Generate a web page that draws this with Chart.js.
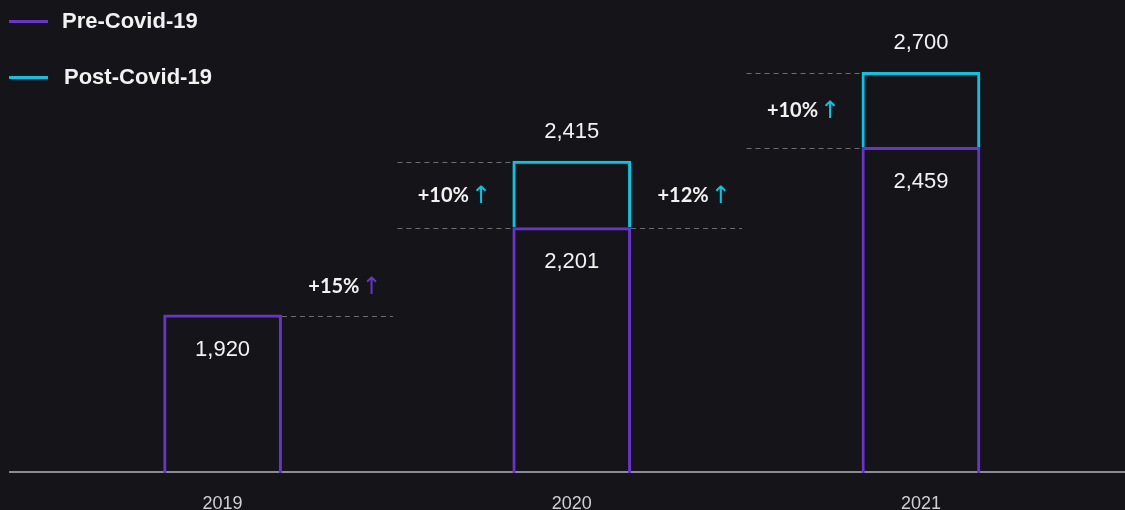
<!DOCTYPE html>
<html>
<head>
<meta charset="utf-8">
<script src="https://cdn.jsdelivr.net/npm/chart.js@4.4.1/dist/chart.umd.min.js"></script>
<style>
  html, body { margin: 0; padding: 0; background: #141419; overflow: hidden; }
  #wrap { width: 1125px; height: 510px; overflow: hidden; }
  canvas { display: block; }
</style>
</head>
<body>
<div id="wrap"><canvas id="covidChart" width="1125" height="552"></canvas></div>
<script>
const years = ["2019", "2020", "2021"];
const preCovid = [1920, 2201, 2459];
const postCovid = [null, 2415, 2700];
const growthLabels = ["+15%", "+10%", "+12%", "+10%"];

const PURPLE = "#6834cc";
const CYAN = "#00c8e6";
const TEXT = "#f2f2f4";
const SANS = "'Liberation Sans', Arial, sans-serif";

// grey axis line running across the whole width, under the bars
const baseline = {
  id: "baseline",
  beforeDatasetsDraw(chart) {
    const { ctx, chartArea } = chart;
    ctx.save();
    ctx.fillStyle = "#8c8c90";
    ctx.fillRect(9, chartArea.bottom - 2, chart.width - 9, 2);
    ctx.restore();
  },
};

// value labels, dashed guides and growth percentages
const annotations = {
  id: "annotations",
  afterDatasetsDraw(chart) {
    const { ctx } = chart;
    const y = chart.scales.y;
    const bars = chart.getDatasetMeta(0).data;
    const left = (i) => bars[i].x - bars[i].width / 2;
    const right = (i) => bars[i].x + bars[i].width / 2;
    const top = (v) => y.getPixelForValue(v);
    const level = (v) => Math.round(top(v)) + 1.5;

    ctx.save();
    ctx.font = "22px " + SANS;
    ctx.fillStyle = TEXT;
    ctx.textAlign = "center";
    ctx.textBaseline = "middle";
    preCovid.forEach((v, i) => {
      ctx.fillText(v.toLocaleString("en-US"), bars[i].x, top(v) + 35);
    });
    postCovid.forEach((v, i) => {
      if (v != null) ctx.fillText(v.toLocaleString("en-US"), bars[i].x, top(v) - 29);
    });

    ctx.strokeStyle = "#6c6c72";
    ctx.lineWidth = 1;
    ctx.setLineDash([5, 4]);
    const dash = (x0, x1, v) => {
      ctx.beginPath();
      ctx.moveTo(x0, level(v));
      ctx.lineTo(x1, level(v));
      ctx.stroke();
    };
    dash(right(0), right(0) + 111, preCovid[0]);
    dash(left(1) - 115, left(1), postCovid[1]);
    dash(left(1) - 115, left(1), preCovid[1]);
    dash(right(1), right(1) + 111, preCovid[1]);
    dash(left(2) - 115, left(2), postCovid[2]);
    dash(left(2) - 115, left(2), preCovid[2]);
    ctx.setLineDash([]);

    const growth = (text, arrowColor, cx, cy) => {
      ctx.font = "bold 20px Lato, sans-serif";
      const tw = ctx.measureText(text).width;
      ctx.font = "24px 'DejaVu Sans', sans-serif";
      const aw = ctx.measureText("\u2191").width;
      const x0 = cx - (tw + 2 + aw) / 2;
      ctx.textAlign = "left";
      ctx.textBaseline = "middle";
      ctx.font = "bold 20px Lato, sans-serif";
      ctx.fillStyle = TEXT;
      ctx.fillText(text, x0, cy);
      ctx.font = "24px 'DejaVu Sans', sans-serif";
      ctx.fillStyle = arrowColor;
      ctx.fillText("\u2191", x0 + tw + 2, cy + 1);
    };
    const row2020 = (level(preCovid[1]) + level(postCovid[1])) / 2;
    growth(growthLabels[0], PURPLE, right(0) + 63, level(preCovid[0]) - 30);
    growth(growthLabels[1], CYAN, left(1) - 58, row2020);
    growth(growthLabels[2], CYAN, right(1) + 63, row2020);
    growth(growthLabels[3], CYAN, left(2) - 58, (level(preCovid[2]) + level(postCovid[2])) / 2);
    ctx.restore();
  },
};

// legend in the top-left corner
const legendLines = {
  id: "legendLines",
  afterDraw(chart) {
    const { ctx } = chart;
    const rows = [[20, 62], [76, 64]];
    ctx.save();
    ctx.font = "bold 22px " + SANS;
    ctx.textAlign = "left";
    ctx.textBaseline = "middle";
    chart.data.datasets.forEach((ds, i) => {
      const [ly, tx] = rows[i];
      ctx.fillStyle = ds.borderColor;
      ctx.fillRect(9, ly, 39, 3);
      ctx.fillStyle = TEXT;
      ctx.fillText(ds.label, tx, ly + 2);
    });
    ctx.restore();
  },
};

new Chart(document.getElementById("covidChart"), {
  type: "bar",
  data: {
    labels: years,
    datasets: [
      {
        label: "Pre-Covid-19",
        data: preCovid,
        borderColor: PURPLE,
        backgroundColor: "transparent",
        borderWidth: 3,
      },
      {
        label: "Post-Covid-19",
        data: postCovid.map((v, i) => (v == null ? null : [preCovid[i], v])),
        borderColor: CYAN,
        backgroundColor: "transparent",
        borderWidth: 3,
      },
    ],
  },
  options: {
    responsive: false,
    animation: false,
    layout: { padding: { left: 48, right: 29.5, top: 0, bottom: 17.4 } },
    datasets: {
      bar: {
        grouped: false,
        barPercentage: 0.34,
        categoryPercentage: 1,
        borderSkipped: "start",
      },
    },
    plugins: {
      legend: { display: false },
      tooltip: { enabled: false },
    },
    scales: {
      x: {
        grid: { display: false, drawTicks: false },
        border: { display: false },
        ticks: { color: "#cfcfd4", font: { family: SANS, size: 18 }, padding: 20 },
      },
      y: { display: false, min: 1410, max: 2932 },
    },
  },
  plugins: [baseline, annotations, legendLines],
});
</script>
</body>
</html>
